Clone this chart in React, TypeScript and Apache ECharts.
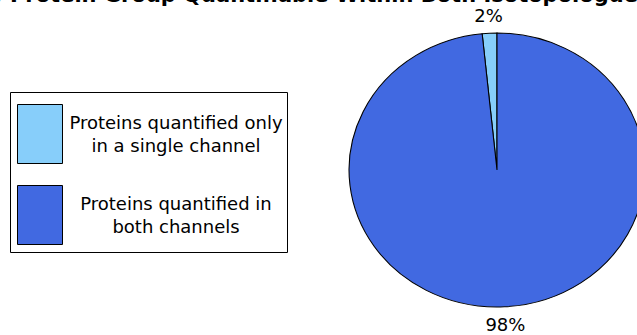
import React, { useEffect, useRef } from "react";
import * as echarts from "echarts";

// ---- data ----
const categories = [
  "Proteins quantified only\nin a single channel",
  "Proteins quantified in\nboth channels",
];
const shares = [1.6, 98.4];
const titleText = "b) Protein Group Quantifiable Within Both Isotopologues";

const COLORS = ["#87CEFA", "#4169E1"];
const FONT = "'DejaVu Sans', sans-serif";

export default function App() {
  const ref = useRef<HTMLDivElement>(null);
  useEffect(() => {
    const chart = echarts.init(ref.current!, null, { renderer: "svg" });
    const total = shares.reduce((a, b) => a + b, 0);
    const starts: number[] = [];
    let acc = 0;
    shares.forEach((v) => {
      starts.push(acc);
      acc += v;
    });
    const CX = 497, CY = 170, RX = 148, RY = 137, LD = 1.13;

    const legendItems: any[] = [];
    categories.forEach((name, i) => {
      const top = 104 + i * 81;
      legendItems.push({
        type: "rect",
        shape: { x: 17.5, y: top + 0.5, width: 45, height: 59 },
        style: { fill: COLORS[i], stroke: "#000", lineWidth: 1 },
      });
      legendItems.push({
        type: "text",
        x: 176,
        y: top + 29.5,
        style: {
          text: name,
          fill: "#000",
          font: `18px ${FONT}`,
          align: "center",
          verticalAlign: "middle",
          lineHeight: 23,
        },
      });
    });

    const option: any = {
      animation: false,
      backgroundColor: "#fff",
      graphic: [
        {
          type: "rect",
          shape: { x: 10.5, y: 92.5, width: 277, height: 160 },
          style: { fill: "#fff", stroke: "#000", lineWidth: 1 },
        },
        ...legendItems,
        {
          type: "text",
          x: -22,
          y: -5.5,
          style: {
            text: titleText,
            fill: "#000",
            font: `bold 21px ${FONT}`,
            align: "left",
            verticalAlign: "middle",
          },
        },
      ],
      series: [
        {
          type: "custom",
          coordinateSystem: "none",
          data: shares.map((v, i) => [v, i]),
          renderItem: (params: any, api: any) => {
            const i = params.dataIndex;
            const v = api.value(0);
            const a0 = Math.PI / 2 + (starts[i] / total) * 2 * Math.PI;
            const a1 = a0 + (v / total) * 2 * Math.PI;
            const mid = (a0 + a1) / 2;
            return {
              type: "group",
              children: [
                {
                  type: "sector",
                  x: CX,
                  y: CY,
                  scaleX: RX / RY,
                  shape: {
                    cx: 0,
                    cy: 0,
                    r0: 0,
                    r: RY,
                    startAngle: -a0,
                    endAngle: -a1,
                    clockwise: false,
                  },
                  style: {
                    fill: COLORS[i],
                    stroke: "#000",
                    lineWidth: 1,
                    strokeNoScale: true,
                  },
                },
                {
                  type: "text",
                  x: CX + LD * RX * Math.cos(mid),
                  y: CY - LD * RY * Math.sin(mid),
                  style: {
                    text: Math.round((v / total) * 100) + "%",
                    fill: "#000",
                    font: `18px ${FONT}`,
                    align: "center",
                    verticalAlign: "middle",
                  },
                },
              ],
            };
          },
        },
      ],
    };
    chart.setOption(option);
    return () => chart.dispose();
  }, []);
  return (
    <div
      ref={ref}
      style={{ position: "absolute", left: 0, top: 0, width: 637, height: 335 }}
    />
  );
}
